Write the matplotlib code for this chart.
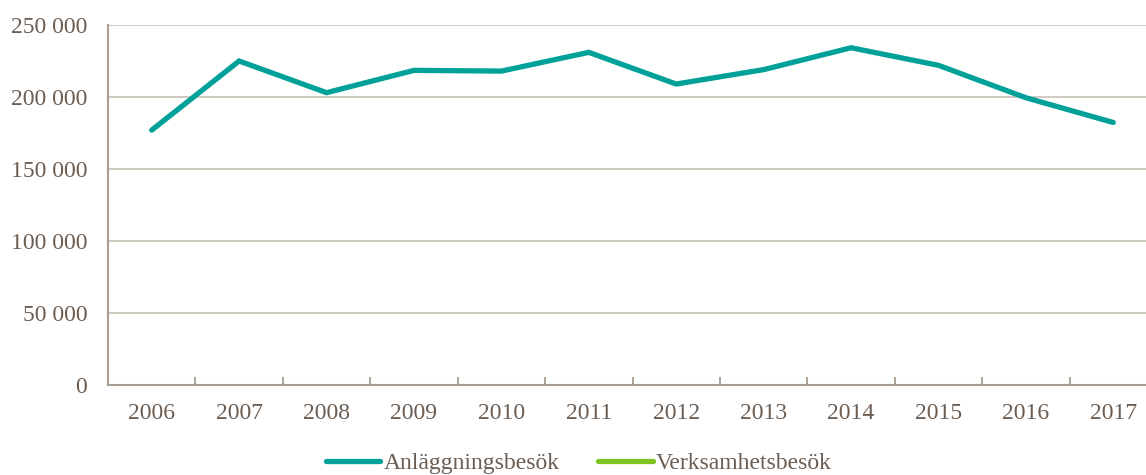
import numpy as np
import matplotlib.pyplot as plt

years = ["2006", "2007", "2008", "2009", "2010", "2011",
         "2012", "2013", "2014", "2015", "2016", "2017"]
anlaggning = [177000, 225000, 203000, 218500, 218000, 231000,
              209000, 219000, 234200, 222000, 199500, 182300]
# no visible values for this series in the chart, only its legend entry
verksamhet = [np.nan] * len(years)

text_col = "#6b5d52"
axis_col = "#a89e94"
grid_col = "#cdc5bd"

plt.rcParams["font.family"] = ["Liberation Serif", "DejaVu Serif"]

fig = plt.figure(figsize=(11.46, 4.75), dpi=100)
ax = fig.add_axes([108 / 1146, 1 - 385 / 475, 1049 / 1146, 360 / 475])

x = np.arange(len(years))
ax.plot(x, anlaggning, color="#00a199", lw=3.8, solid_capstyle="round",
        solid_joinstyle="miter", label="Anläggningsbesök")
ax.plot(x, verksamhet, color="#7dc322", lw=3.8, solid_capstyle="round",
        label="Verksamhetsbesök")

ax.set_xlim(-0.5, len(years) - 0.5)
ax.set_ylim(0, 250000)
ax.set_yticks(np.arange(0, 250001, 50000))
ax.set_yticklabels([f"{v:,}".replace(",", " ") for v in range(0, 250001, 50000)])
ax.set_xticks(x)
ax.set_xticklabels(years)
ax.set_xticks(np.arange(0.5, len(years) - 0.5, 1), minor=True)

ax.grid(axis="y", color=grid_col, lw=1.3)
ax.set_axisbelow(True)
for s in ["top", "right"]:
    ax.spines[s].set_visible(False)
for s in ["left", "bottom"]:
    ax.spines[s].set_color(axis_col)
    ax.spines[s].set_linewidth(1.5)

ax.tick_params(axis="x", which="major", length=0, pad=13, labelsize=17,
               labelcolor=text_col)
ax.tick_params(axis="x", which="minor", length=6, width=1.3, direction="in",
               color=axis_col)
ax.tick_params(axis="y", length=0, pad=15, labelsize=17, labelcolor=text_col)

fig.legend(loc="center", bbox_to_anchor=(0.505, 0.025), ncol=2, frameon=False,
           fontsize=17, labelcolor=text_col, handlelength=2.3,
           handletextpad=0.12, columnspacing=1.65)

fig.savefig("out.png", dpi=100)
